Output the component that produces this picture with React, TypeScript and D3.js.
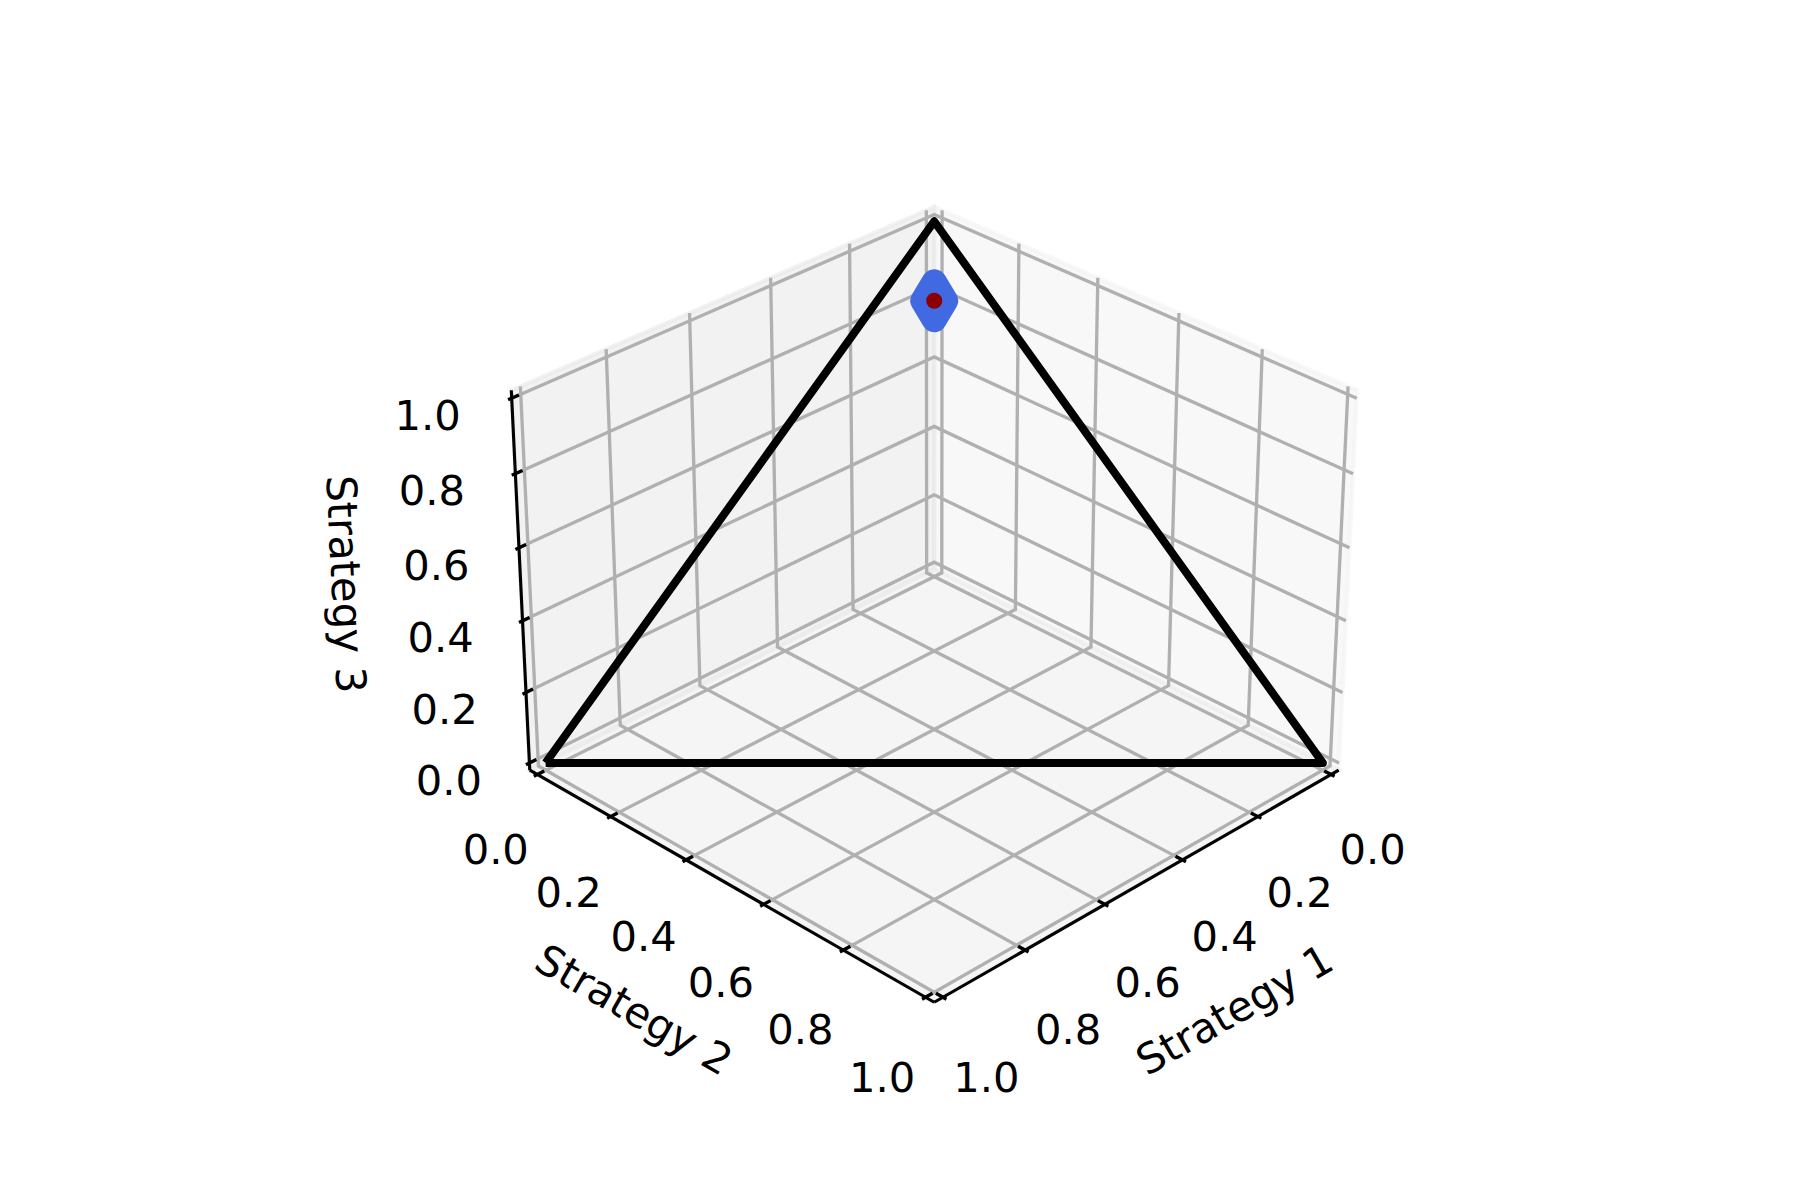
import React from 'react';
import * as d3 from 'd3';

// ---- data ----
const tickValues = [0, 0.2, 0.4, 0.6, 0.8, 1.0];
const tickLabels = ['0.0', '0.2', '0.4', '0.6', '0.8', '1.0'];
const axisTitles = ['Strategy 1', 'Strategy 2', 'Strategy 3'];
// simplex corners (closed path)
const simplexX = [1, 0, 0, 1];
const simplexY = [0, 1, 0, 0];
const simplexZ = [0, 0, 1, 0];
// estimated strategy point
const pointX = [0.075];
const pointY = [0.075];
const pointZ = [0.85];

// ---- view (matplotlib-like 3d) ----
const W = 1800;
const H = 1200;
const elev = 30;
const azim = 45;
const dist = 10;
const fontSize = 41.67;

type V3 = [number, number, number];

const norm = Math.hypot(4, 4, 3);
const aspect: V3 = [4, 4, 3].map((a) => (a * 1.8294640721620434) / norm) as V3;

const sx = d3.scaleLinear().domain([0, 1]).range([0, aspect[0]]);
const sy = d3.scaleLinear().domain([0, 1]).range([0, aspect[1]]);
const sz = d3.scaleLinear().domain([0, 1]).range([0, aspect[2]]);

// 2d view limits -> pixels
const px = d3.scaleLinear().domain([-0.095, 0.09]).range([467.6, 1376.3]);
const py = d3.scaleLinear().domain([-0.095, 0.09]).range([1051.1, 142.4]);

const er = (elev * Math.PI) / 180;
const ar = (azim * Math.PI) / 180;
const wv: V3 = [Math.cos(er) * Math.cos(ar), Math.cos(er) * Math.sin(ar), Math.sin(er)];
const R: V3 = [aspect[0] / 2, aspect[1] / 2, aspect[2] / 2];
const eye: V3 = [R[0] + dist * wv[0], R[1] + dist * wv[1], R[2] + dist * wv[2]];
const cross = (a: V3, b: V3): V3 => [
  a[1] * b[2] - a[2] * b[1],
  a[2] * b[0] - a[0] * b[2],
  a[0] * b[1] - a[1] * b[0],
];
const dot = (a: V3, b: V3) => a[0] * b[0] + a[1] * b[1] + a[2] * b[2];
let uv = cross([0, 0, 1], wv);
const ul = Math.hypot(...uv);
uv = [uv[0] / ul, uv[1] / ul, uv[2] / ul];
const vv = cross(wv, uv);

const proj = (p: V3): [number, number] => {
  const d: V3 = [sx(p[0]) - eye[0], sy(p[1]) - eye[1], sz(p[2]) - eye[2]];
  const zv = dot(wv, d);
  return [px(dot(uv, d) / -zv), py(dot(vv, d) / -zv)];
};

const line = d3.line<V3>()
  .x((p) => proj(p)[0])
  .y((p) => proj(p)[1]);

// box bounds with matplotlib's small padding
const pad = 1 / 48;
const lo = 0 - pad;
const hi = 1 + pad;
const delta = 1 / 12;
const tickOut = 0.1 * delta;
const tickIn = 0.2 * delta;
const perPoint = 48 / (2 * 72 * (924 / 300));
const tickLabelDelta = (3.5 + 8) * perPoint * delta;
const titleDelta = (4 + 21) * perPoint * delta;

const panes = [
  { fill: 'rgba(242,242,242,0.5)', pts: [[lo, lo, lo], [lo, hi, lo], [lo, hi, hi], [lo, lo, hi]] as V3[] },
  { fill: 'rgba(230,230,230,0.5)', pts: [[lo, lo, lo], [hi, lo, lo], [hi, lo, hi], [lo, lo, hi]] as V3[] },
  { fill: 'rgba(236,236,236,0.5)', pts: [[lo, lo, lo], [hi, lo, lo], [hi, hi, lo], [lo, hi, lo]] as V3[] },
];

const gridLines: V3[][] = [];
tickValues.forEach((t) => {
  gridLines.push([[t, hi, lo], [t, lo, lo], [t, lo, hi]]);
  gridLines.push([[lo, t, hi], [lo, t, lo], [hi, t, lo]]);
  gridLines.push([[hi, lo, t], [lo, lo, t], [lo, hi, t]]);
});

const axisEdges: V3[][] = [
  [[lo, hi, lo], [hi, hi, lo]],
  [[hi, lo, lo], [hi, hi, lo]],
  [[hi, lo, lo], [hi, lo, hi]],
];

const tickMarks: V3[][] = [];
const tickText: { p: V3; label: string }[] = [];
tickValues.forEach((t, i) => {
  tickMarks.push([[t, hi + tickOut, lo], [t, hi - tickIn, lo]]);
  tickMarks.push([[hi + tickOut, t, lo], [hi - tickIn, t, lo]]);
  tickMarks.push([[hi + tickOut, lo, t], [hi - tickIn, lo, t]]);
  tickText.push({ p: [t, hi + tickLabelDelta, lo - tickLabelDelta], label: tickLabels[i] });
  tickText.push({ p: [hi + tickLabelDelta, t, lo - tickLabelDelta], label: tickLabels[i] });
  tickText.push({ p: [hi + tickLabelDelta, lo - tickLabelDelta, t], label: tickLabels[i] });
});

const titlePos: V3[] = [
  [0.5, hi + titleDelta, lo - titleDelta],
  [hi + titleDelta, 0.5, lo - titleDelta],
  [hi + titleDelta, lo - titleDelta, 0.5],
];

const textAngle = (edge: V3[]) => {
  const a = proj(edge[0]);
  const b = proj(edge[1]);
  let ang = (Math.atan2(-(b[1] - a[1]), b[0] - a[0]) * 180) / Math.PI;
  ang = (ang + 180) % 180;
  if (ang > 90) ang -= 180;
  return ang;
};

const simplex: V3[] = simplexX.map((x, i) => [x, simplexY[i], simplexZ[i]]);
const points: V3[] = pointX.map((x, i) => [x, pointY[i], pointZ[i]]);

// thin diamond marker
const dh = 19;
const dw = 11.4;
const diamond = `M0,${-dh}L${dw},0L0,${dh}L${-dw},0Z`;

export default function App() {
  React.useEffect(() => {
    document.body.style.margin = '0';
  }, []);

  return (
    <svg width={W} height={H} style={{ display: 'block', background: '#fff' }}
      fontFamily="'DejaVu Sans', sans-serif">
      {panes.map((pn, i) => (
        <path key={'pane' + i} d={line(pn.pts) + 'Z'} fill={pn.fill} stroke={pn.fill} strokeWidth={4.17} />
      ))}
      {gridLines.map((g, i) => (
        <path key={'g' + i} d={line(g) ?? ''} fill="none" stroke="#b0b0b0" strokeWidth={3.33} />
      ))}
      {axisEdges.map((e, i) => (
        <path key={'ax' + i} d={line(e) ?? ''} stroke="#000" strokeWidth={3.125} />
      ))}
      {tickMarks.map((t, i) => (
        <path key={'tk' + i} d={line(t) ?? ''} stroke="#000" strokeWidth={3.33} />
      ))}
      {tickText.map((t, i) => {
        const [x, y] = proj(t.p);
        return (
          <text key={'tl' + i} x={x} y={y + 16.5 + 0.3645 * fontSize} fontSize={fontSize} textAnchor="middle">
            {t.label}
          </text>
        );
      })}
      {titlePos.map((p, i) => {
        const [x, y] = proj(p);
        const ang = textAngle(axisEdges[i]);
        return (
          <text key={'title' + i} x={x} y={y} dy={0.247 * fontSize} fontSize={fontSize} textAnchor="middle"
            transform={`rotate(${-ang},${x},${y})`}>
            {axisTitles[i]}
          </text>
        );
      })}
      <path d={line(simplex) ?? ''} fill="none" stroke="#000" strokeWidth={8} strokeLinejoin="round" />
      {points.map((p, i) => {
        const [x, y] = proj(p);
        return (
          <g key={'pt' + i} transform={`translate(${x},${y})`}>
            <path d={diamond} fill="#4169E1" stroke="#4169E1" strokeWidth={25} strokeLinejoin="round" />
            <circle r={8} fill="#8B0000" />
          </g>
        );
      })}
    </svg>
  );
}
